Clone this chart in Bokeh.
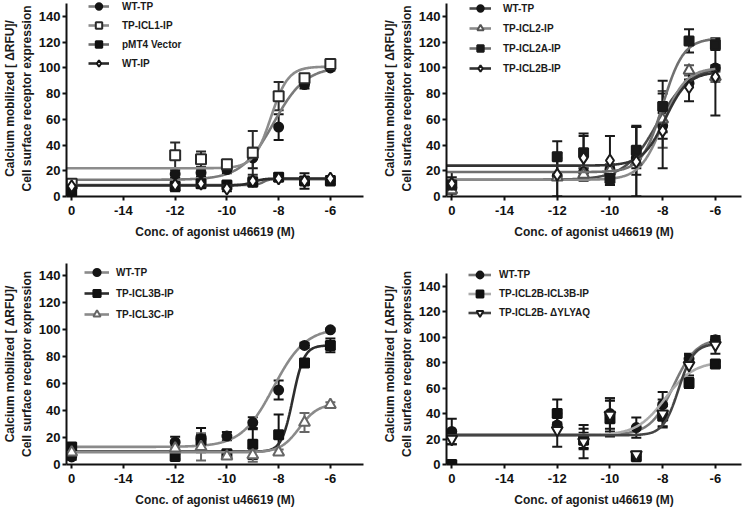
import numpy as np
from bokeh.plotting import figure
from bokeh.models import (ColumnDataSource, Whisker, TeeHead, Legend, LegendItem,
                          FixedTicker, Range1d)
from bokeh.layouts import row, column
from bokeh.embed import file_html
from bokeh.resources import INLINE

# ---------------- data ----------------
x_ticks = [-16, -14, -12, -10, -8, -6]
x_tick_labels = ["0", "-14", "-12", "-10", "-8", "-6"]
y_ticks = [0, 20, 40, 60, 80, 100, 120, 140]
# log10 [u46619]; -16 is the "0" (no agonist) position on the broken axis
log_conc = [-16, -12, -11, -10, -9, -8, -7, -6]

y_title = "Calcium mobilized [ \u0394RFU]/\nCell surface receptor expression"
x_title = "Conc. of agonist u46619 (M)"

# fit parameters: [bottom, top, logEC50, hill slope]
# Panel A
a_names = ["WT-TP", "TP-ICL1-IP", "pMT4 Vector", "WT-IP"]
a_wt_tp_mean = [7, 17.5, 18.5, 21, 30, 54, 87, 100]
a_wt_tp_err = [3, 3, 3, 3, 8, 10, 3, 2]
a_wt_tp_fit = [13, 101, -8.2, 0.7]
a_icl1_mean = [10, 32, 29, 25, 34, 78, 92, 103]
a_icl1_err = [3, 10, 6, 3, 17, 11, 3, 3]
a_icl1_fit = [22, 101, -8.3, 1.3]
a_pmt4_mean = [4, 8, 10, 9, 11, 15, 12, 12]
a_pmt4_err = [2, 3, 2, 2, 2, 3, 2, 2]
a_pmt4_fit = [9, 13.5, -8.6, 4]
a_wt_ip_mean = [8, 9, 10, 6, 12, 14, 12, 14]
a_wt_ip_err = [2, 5, 3, 2, 3, 2, 6, 2]
a_wt_ip_fit = [8.5, 14, -9.0, 2]

# Panel B
b_names = ["WT-TP", "TP-ICL2-IP", "TP-ICL2A-IP", "TP-ICL2B-IP"]
b_wt_tp_mean = [7, 16, 19, 21, 30, 55, 88, 100]
b_wt_tp_err = [3, 3, 3, 3, 8, 10, 3, 2]
b_wt_tp_fit = [13, 101, -8.2, 0.7]
b_icl2_mean = [5, 15, 17, 20, 27, 60, 98, 93]
b_icl2_err = [3, 15, 5, 5, 27, 22, 4, 4]
b_icl2_fit = [13, 100, -8.0, 1.0]
b_icl2a_mean = [9, 31, 34, 14, 36, 70, 121, 118]
b_icl2a_err = [10, 12, 15, 5, 19, 20, 9, 4]
b_icl2a_fit = [19, 123, -8.0, 1.1]
b_icl2b_mean = [10, 17, 30, 28, 27, 51, 85, 93]
b_icl2b_err = [5, 17, 17, 19, 27, 29, 11, 30]
b_icl2b_fit = [24, 97, -7.9, 1.0]

# Panel C
c_names = ["WT-TP", "TP-ICL3B-IP", "TP-ICL3C-IP"]
c_wt_tp_mean = [5.6, 16.5, 19, 21, 31, 55, 88, 99.5]
c_wt_tp_err = [2, 4, 3, 3, 4, 7, 2, 1]
c_wt_tp_fit = [13, 101, -8.2, 0.7]
c_icl3b_mean = [13, 6, 18, 8, 15, 22, 75, 88]
c_icl3b_err = [2, 2, 9, 2, 11, 15, 3, 5]
c_icl3b_fit = [9.5, 88, -7.45, 2.0]
c_icl3c_mean = [9, 12, 13, 6, 7, 9, 31, 44]
c_icl3c_err = [2, 2, 10, 2, 5, 2, 7, 2]
c_icl3c_fit = [9, 45, -7.2, 1.2]

# Panel D
d_names = ["WT-TP", "TP-ICL2B-ICL3B-IP", "TP-ICL2B- \u0394YLYAQ"]
d_wt_tp_mean = [26, 31, 20, 40, 29, 47, 83, 98]
d_wt_tp_err = [10, 2, 8, 12, 8, 10, 4, 2]
d_wt_tp_fit = [23.5, 99, -7.6, 1.0]
d_icl23_mean = [0, 40, 19, 36, 6, 38, 64, 79]
d_icl23_err = [1, 11, 6, 14, 2, 8, 4, 2]
d_icl23_fit = [23, 81, -7.9, 0.8]
d_dylyaq_mean = [20, 27, 18, 39, 8, 40, 78, 94]
d_dylyaq_err = [4, 13, 13, 13, 2, 11, 8, 7]
d_dylyaq_fit = [23, 95, -7.4, 1.5]

FONT = "Liberation Sans"


def series(name, mean, err, fit, marker, size, fill, edge, line):
    return dict(name=name, mean=mean, err=err, fit=fit, marker=marker, size=size,
                fill=fill, edge=edge, line=line)


def make_panel(width, height, bl, br, bt, bb, x_end, y_end, y_top, items, leg):
    p = figure(width=width, height=height, output_backend="svg", toolbar_location=None,
               x_range=Range1d(-16.2, x_end), y_range=Range1d(0, y_end),
               min_border_left=bl, min_border_right=br, min_border_top=bt,
               min_border_bottom=bb)
    p.outline_line_color = None
    p.xgrid.visible = False
    p.ygrid.visible = False
    xs = np.linspace(-16.2, -6, 400)
    legend_items = []
    for s in items:
        b, t, e, h = s["fit"]
        ys = b + (t - b) / (1 + 10 ** ((e - xs) * h))
        lr = p.line(xs, ys, line_color=s["line"], line_width=2.6)
        lo = [m - d for m, d in zip(s["mean"], s["err"])]
        hi = [m + d for m, d in zip(s["mean"], s["err"])]
        src = ColumnDataSource(dict(x=log_conc, y=s["mean"], lo=lo, hi=hi))
        w = Whisker(source=src, base="x", upper="hi", lower="lo", dimension="height",
                    line_color=s["edge"], line_width=2,
                    upper_head=TeeHead(size=10, line_width=2, line_color=s["edge"]),
                    lower_head=TeeHead(size=10, line_width=2, line_color=s["edge"]))
        p.add_layout(w)
        sr = p.scatter("x", "y", source=src, marker=s["marker"], size=s["size"],
                       fill_color=s["fill"], line_color=s["edge"], line_width=2)
        legend_items.append(LegendItem(label=s["name"], renderers=[lr, sr]))
    vx, vy, rh, sp, gw, so = leg
    lg = Legend(items=legend_items, location=(vx, vy), orientation="vertical",
                padding=0, margin=0, spacing=sp, glyph_width=gw, glyph_height=rh,
                label_height=rh, label_standoff=so, border_line_alpha=0,
                background_fill_alpha=0, label_text_font=FONT,
                label_text_font_size="10px", label_text_font_style="bold",
                label_text_color="#1a1a1a")
    p.add_layout(lg)
    p.xaxis.ticker = FixedTicker(ticks=x_ticks)
    p.xaxis.major_label_overrides = dict(zip(x_ticks, x_tick_labels))
    p.yaxis.ticker = FixedTicker(ticks=y_ticks)
    p.yaxis.bounds = (0, y_top)
    p.xaxis.axis_label = x_title
    p.yaxis.axis_label = y_title
    for ax in (p.xaxis[0], p.yaxis[0]):
        ax.axis_line_width = 2
        ax.axis_line_color = "#111111"
        ax.major_tick_line_width = 2
        ax.major_tick_line_color = "#111111"
        ax.major_tick_out = 4
        ax.major_tick_in = 0
        ax.minor_tick_line_color = None
        ax.major_label_text_font = FONT
        ax.major_label_text_font_size = "13px"
        ax.major_label_text_font_style = "bold"
        ax.major_label_text_color = "#111111"
        ax.axis_label_text_font = FONT
        ax.axis_label_text_font_size = "12px"
        ax.axis_label_text_font_style = "bold"
        ax.axis_label_text_color = "#1a1a1a"
    p.xaxis.major_label_standoff = 5
    p.xaxis.axis_label_standoff = 7
    p.yaxis.major_label_standoff = 2
    p.yaxis.axis_label_standoff = 2
    return p


pa = make_panel(371, 250, 60, 8, 0, 54, -4.72, 152.4, 150, [
    series(a_names[0], a_wt_tp_mean, a_wt_tp_err, a_wt_tp_fit, "circle", 9, "#151515", "#151515", "#7a7a7a"),
    series(a_names[1], a_icl1_mean, a_icl1_err, a_icl1_fit, "square", 10, "white", "#2a2a2a", "#8c8c8c"),
    series(a_names[2], a_pmt4_mean, a_pmt4_err, a_pmt4_fit, "square", 9, "#111111", "#111111", "#6a6a6a"),
    series(a_names[3], a_wt_ip_mean, a_wt_ip_err, a_wt_ip_fit, "diamond", 12, "white", "#151515", "#2a2a2a"),
], (22, 125, 16, 3, 21, 13))

pb = make_panel(371, 250, 75, 1, 0, 54, -5.01, 152.4, 150, [
    series(b_names[0], b_wt_tp_mean, b_wt_tp_err, b_wt_tp_fit, "circle", 9, "#151515", "#151515", "#4a4a4a"),
    series(b_names[1], b_icl2_mean, b_icl2_err, b_icl2_fit, "triangle", 11, "white", "#555555", "#8a8a8a"),
    series(b_names[2], b_icl2a_mean, b_icl2a_err, b_icl2a_fit, "square", 9, "#1a1a1a", "#1a1a1a", "#707070"),
    series(b_names[3], b_icl2b_mean, b_icl2b_err, b_icl2b_fit, "diamond", 12, "white", "#1a1a1a", "#333333"),
], (23, 120, 16, 4, 22, 12))

pc = make_panel(371, 259, 60, 8, 13, 43, -4.72, 148.5, 148.5, [
    series(c_names[0], c_wt_tp_mean, c_wt_tp_err, c_wt_tp_fit, "circle", 9, "#151515", "#151515", "#8a8a8a"),
    series(c_names[1], c_icl3b_mean, c_icl3b_err, c_icl3b_fit, "square", 9, "#111111", "#111111", "#2e2e2e"),
    series(c_names[2], c_icl3c_mean, c_icl3c_err, c_icl3c_fit, "triangle", 11, "white", "#666666", "#8a8a8a"),
], (18, 141, 18, 3, 25, 7))

pd_ = make_panel(371, 259, 75, 1, 13, 43, -5.01, 157.9, 150, [
    series(d_names[0], d_wt_tp_mean, d_wt_tp_err, d_wt_tp_fit, "circle", 9, "#151515", "#151515", "#7a7a7a"),
    series(d_names[1], d_icl23_mean, d_icl23_err, d_icl23_fit, "square", 9, "#111111", "#111111", "#ababab"),
    series(d_names[2], d_dylyaq_mean, d_dylyaq_err, d_dylyaq_fit, "inverted_triangle", 11, "white", "#1a1a1a", "#444444"),
], (22, 143, 17, 2, 23, 8))

layout = column(row(pa, pb), row(pc, pd_))
open("out.html", "w").write(file_html(layout, INLINE))
